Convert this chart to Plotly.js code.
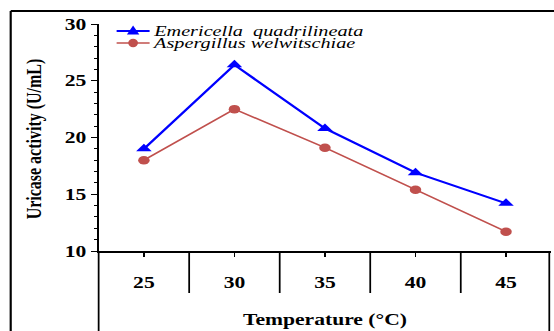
<!DOCTYPE html>
<html><head><meta charset="utf-8">
<script src="https://cdn.plot.ly/plotly-3.0.1.min.js"></script>
<style>
html,body{margin:0;padding:0;background:#fff;overflow:hidden;}
#wrap{width:554px;height:331px;overflow:hidden;}
#c{width:410px;height:331px;transform:scaleX(1.3512);transform-origin:0 0;}
</style>
</head><body><div id="wrap"><div id="c"></div></div>
<script>
const temperatures = ['25', '30', '35', '40', '45'];
const emericella = [19.0, 26.4, 20.8, 16.9, 14.2];
const aspergillus = [18.0, 22.5, 19.1, 15.4, 11.7];
const seriesNames = ['Emericella&nbsp; quadrilineata', 'Aspergillus welwitschiae'];
const seriesColors = ['#0000FF', '#C0504D'];
const yTicks = [10, 15, 20, 25, 30];
const xTitle = 'Temperature (°C)';
const yTitle = 'Uricase activity (U/mL)';

const K = 1.3512;               // horizontal stretch of the reference picture
const serif = 'Liberation Serif, Times New Roman, DejaVu Serif, serif';
const traces = [
  {x: temperatures, y: emericella, name: seriesNames[0], type: 'scatter', mode: 'lines+markers',
   line: {color: seriesColors[0], width: 2}, marker: {symbol: 'triangle-up', size: 10, color: seriesColors[0]}},
  {x: temperatures, y: aspergillus, name: seriesNames[1], type: 'scatter', mode: 'lines+markers',
   line: {color: seriesColors[1], width: 1.5}, marker: {symbol: 'circle', size: 8.5, color: seriesColors[1]}}
];
const plotH = 227;
const fx = xs => (xs - 98) / 453;       // reference pixel -> paper fraction
const fy = ys => 1 - (ys - 24) / plotH;
const below = 80 / plotH;
const divH = 42 / plotH;
const shapes = [
  {type: 'line', xref: 'paper', yref: 'paper', x0: fx(10), x1: 1.01, y0: fy(11), y1: fy(11), line: {color: '#000', width: 2}},
  {type: 'line', xref: 'paper', yref: 'paper', x0: fx(10), x1: fx(10), y0: fy(11), y1: -below - 0.05, line: {color: '#000', width: 1.6}},
  {type: 'line', xref: 'paper', yref: 'paper', x0: 0, x1: 0, y0: 0, y1: -below - 0.05, line: {color: '#000', width: 1.3}},
  {type: 'line', xref: 'paper', yref: 'paper', x0: fx(549), x1: fx(549), y0: 0, y1: -below - 0.05, line: {color: '#000', width: 1.3}}
];
[0.5, 1.5, 2.5, 3.5].forEach(p => shapes.push({type: 'line', xref: 'x', yref: 'paper', x0: p, x1: p, y0: 0, y1: -divH, line: {color: '#000', width: 1.3}}));

// legend (drawn by hand to match the reference's compact key)
const legRows = [31, 43];
const annotations = [];
legRows.forEach((ys, i) => {
  shapes.push({type: 'line', xref: 'paper', yref: 'paper', x0: fx(116), x1: fx(149), y0: fy(ys), y1: fy(ys), line: {color: seriesColors[i], width: i === 0 ? 2 : 1.5}});
  if (i === 0) {
    shapes.push({type: 'path', xref: 'paper', yref: 'paper', xsizemode: 'pixel', ysizemode: 'pixel',
      xanchor: fx(132.5), yanchor: fy(ys), path: 'M-4.6,-3.5 L4.6,-3.5 L0,5.5 Z', fillcolor: seriesColors[i], line: {width: 0}});
  } else {
    shapes.push({type: 'circle', xref: 'paper', yref: 'paper', xsizemode: 'pixel', ysizemode: 'pixel',
      xanchor: fx(132.5), yanchor: fy(ys), x0: -3.6, x1: 3.6, y0: -4.2, y1: 4.2, fillcolor: seriesColors[i], line: {width: 0}});
  }
  annotations.push({xref: 'paper', yref: 'paper', x: fx(151), y: fy(ys), xanchor: 'left', yanchor: 'middle', showarrow: false,
    text: seriesNames[i], font: {family: serif, size: 15, color: '#000', style: 'italic'}, borderpad: 0});
});
annotations.push({xref: 'paper', yref: 'paper', x: fx(33), y: fy(138.5), xanchor: 'center', yanchor: 'middle', showarrow: false,
  textangle: -90, text: yTitle, font: {family: serif, size: 16, color: '#000', weight: 'bold'}, borderpad: 0});

const layout = {
  width: 410, height: 331,
  margin: {l: 98 / K, r: 3 / K, t: 24, b: 80},
  paper_bgcolor: '#fff', plot_bgcolor: '#fff',
  showlegend: false,
  xaxis: {type: 'category', range: [-0.5, 4.5], showline: true, linecolor: '#000', linewidth: 1.8,
    ticks: 'outside', ticklen: 4, tickcolor: '#000', tickwidth: 1, showgrid: false, zeroline: false,
    ticklabelstandoff: 12,
    tickfont: {family: serif, size: 16, color: '#000', weight: 'bold'},
    title: {text: xTitle, font: {family: serif, size: 16, color: '#000', weight: 'bold'}, standoff: 24}},
  yaxis: {range: [10, 30], tickvals: yTicks, ticktext: yTicks.map(String), showline: true, linecolor: '#000', linewidth: 1.5,
    ticks: 'outside', ticklen: 6 / K, tickcolor: '#000', tickwidth: 1, showgrid: false, zeroline: false,
    minor: {dtick: 1, ticks: 'outside', ticklen: 3 / K, tickcolor: '#000', tickwidth: 1, showgrid: false},
    ticklabelstandoff: 9 / K,
    tickfont: {family: serif, size: 16, color: '#000', weight: 'bold'}},
  shapes: shapes,
  annotations: annotations
};
Plotly.newPlot('c', traces, layout, {displayModeBar: false, staticPlot: true});
</script></body></html>
